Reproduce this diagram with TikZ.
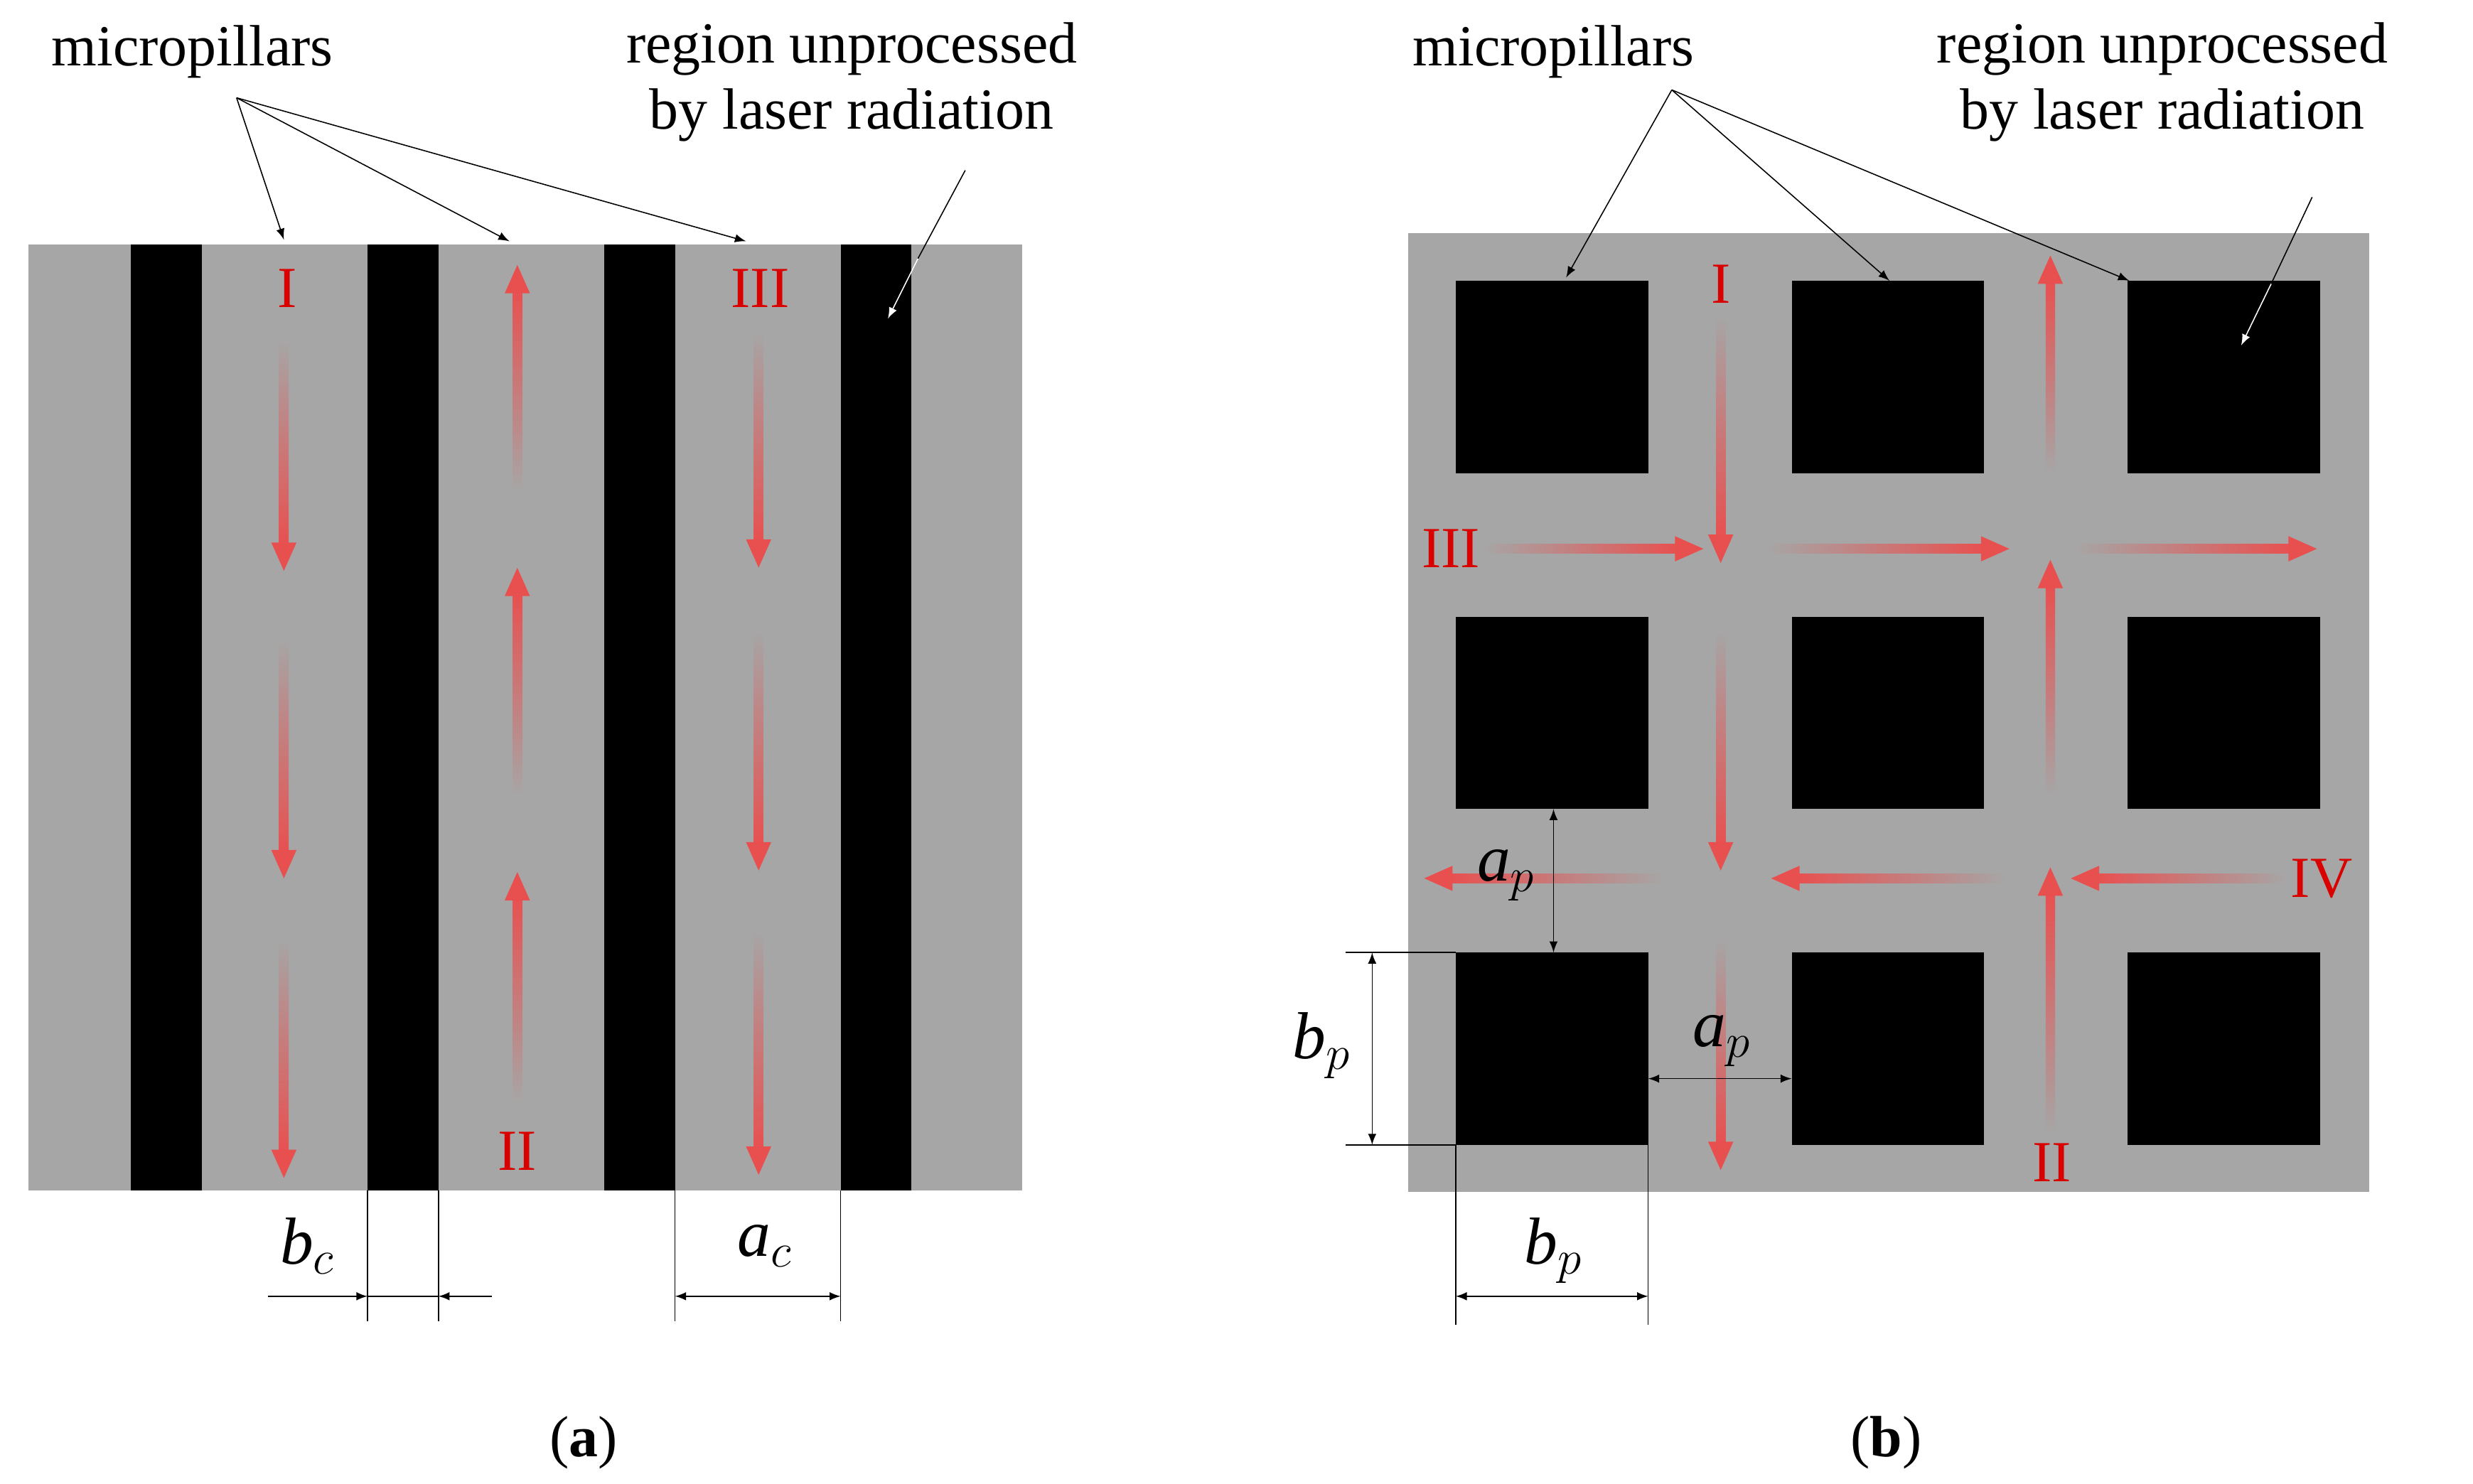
\documentclass[tikz,border=0pt]{standalone}
\usepackage{fontspec}
\setmainfont{Liberation Serif}
\begin{document}
\begin{tikzpicture}[x=0.02cm,y=-0.02cm,
  lbl/.style={font=\fontsize{21}{24}\selectfont,inner sep=0},
  rn/.style={font=\fontsize{21}{24}\selectfont,text=red!85!black,inner sep=0},
  dim/.style={font=\fontsize{24}{26}\selectfont\itshape,inner sep=0},
  ptr/.style={-latex,thin},
  dl/.style={thin},
  da/.style={latex-latex,thin}]
\definecolor{bg}{RGB}{166,166,166}
\definecolor{ar}{RGB}{232,80,80}
\useasboundingbox (0,0) rectangle (1568,941);
\newcommand\vdown[3]{\shade[top color=bg,bottom color=ar] (#1-3,#2) rectangle (#1+3,#3-16);
  \fill[ar] (#1-8,#3-18)--(#1+8,#3-18)--(#1,#3)--cycle;}
\newcommand\vup[3]{\shade[top color=ar,bottom color=bg] (#1-3,#3+16) rectangle (#1+3,#2);
  \fill[ar] (#1-8,#3+18)--(#1+8,#3+18)--(#1,#3)--cycle;}
\newcommand\hright[3]{\shade[left color=bg,right color=ar] (#2,#1-3) rectangle (#3-16,#1+3);
  \fill[ar] (#3-18,#1-8)--(#3-18,#1+8)--(#3,#1)--cycle;}
\newcommand\hleft[3]{\shade[left color=ar,right color=bg] (#3+16,#1-3) rectangle (#2,#1+3);
  \fill[ar] (#3+18,#1-8)--(#3+18,#1+8)--(#3,#1)--cycle;}
% ---------- (a)
\fill[bg] (18,155) rectangle (648,755);
\foreach \x in {83,233,383,533} \fill[black] (\x,155) rectangle (\x+45,755);
\vdown{180}{215}{362}\vdown{180}{405}{557}\vdown{180}{595}{747}
\vup{328}{312}{168}\vup{328}{505}{360}\vup{328}{700}{553}
\vdown{481}{210}{360}\vdown{481}{400}{552}\vdown{481}{590}{745}
\node[rn] (a1) at (182,183) {I};
\node[rn] (a2) at (328,730) {II};
\node[rn] (a3) at (482,183) {III};
\node[lbl] (amp) at (122,33) {micropillars};
\node[lbl,align=center] (areg) at (540,52) {region unprocessed\\by laser radiation};
\coordinate (ao) at (150,62);
\draw[ptr] (ao) -- (180,152);
\draw[ptr] (ao) -- (323,153);
\draw[ptr] (ao) -- (473,153);
\coordinate (aw1) at (612,108); \coordinate (aw2) at (582,164); \coordinate (aw3) at (563,202);
\draw (aw1)--(aw2); \draw[white,-latex] (aw2)--(aw3);
\draw[dl] (233,755)--(233,838) (278,755)--(278,838) (428,755)--(428,838) (533,755)--(533,838);
\draw[-latex,thin] (170,822)--(233,822);
\draw[-latex,thin] (312,822)--(278,822);
\draw[dl] (233,822)--(278,822);
\draw[da] (428,822)--(533,822);
\node[dim] (bc) at (195,790) {b$_c$};
\node[dim] (ac) at (485,790) {a$_c$};
\node[font=\fontsize{21}{24}\selectfont] (la) at (370,915) {(\textbf{a})};
% ---------- (b)
\fill[bg] (893,148) rectangle (1502,756);
\foreach \x in {923,1136,1349} \foreach \y in {178,391,604} \fill[black] (\x,\y) rectangle (\x+122,\y+122);
\vdown{1091}{200}{357}\vdown{1091}{400}{552}\vdown{1091}{595}{742}
\hright{348}{940}{1080}\hright{348}{1120}{1274}\hright{348}{1315}{1469}
\vup{1300}{300}{162}\vup{1300}{505}{355}\vup{1300}{720}{550}
\hleft{557}{1055}{903}\hleft{557}{1272}{1123}\hleft{557}{1450}{1313}
\node[rn] (b1) at (1091,180) {I};
\node[rn] (b3) at (920,348) {III};
\node[rn] (b4) at (1472,557) {IV};
\node[rn] (b2) at (1301,737) {II};
\node[lbl] (bmp) at (985,33) {micropillars};
\node[lbl,align=center] (breg) at (1371,52) {region unprocessed\\by laser radiation};
\coordinate (bo) at (1060,57);
\draw[ptr] (bo) -- (993,176);
\draw[ptr] (bo) -- (1198,178);
\draw[ptr] (bo) -- (1350,178);
\coordinate (bw1) at (1466,125); \coordinate (bw2) at (1440,180); \coordinate (bw3) at (1421,219);
\draw (bw1)--(bw2); \draw[white,-latex] (bw2)--(bw3);
\draw[da] (985,513)--(985,604);
\node[dim] (ap1) at (955,555) {a$_p$};
\draw[da] (1045,684)--(1136,684);
\node[dim] (ap2) at (1092,660) {a$_p$};
\draw[dl] (853,604)--(923,604) (853,726)--(923,726);
\draw[da] (870,604)--(870,726);
\node[dim] (bp1) at (838,663) {b$_p$};
\draw[dl] (923,726)--(923,840) (1045,726)--(1045,840);
\draw[da] (923,822)--(1045,822);
\node[dim] (bp2) at (985,793) {b$_p$};
\node[font=\fontsize{21}{24}\selectfont] (lb) at (1196,915) {(\textbf{b})};
\end{tikzpicture}
\end{document}
